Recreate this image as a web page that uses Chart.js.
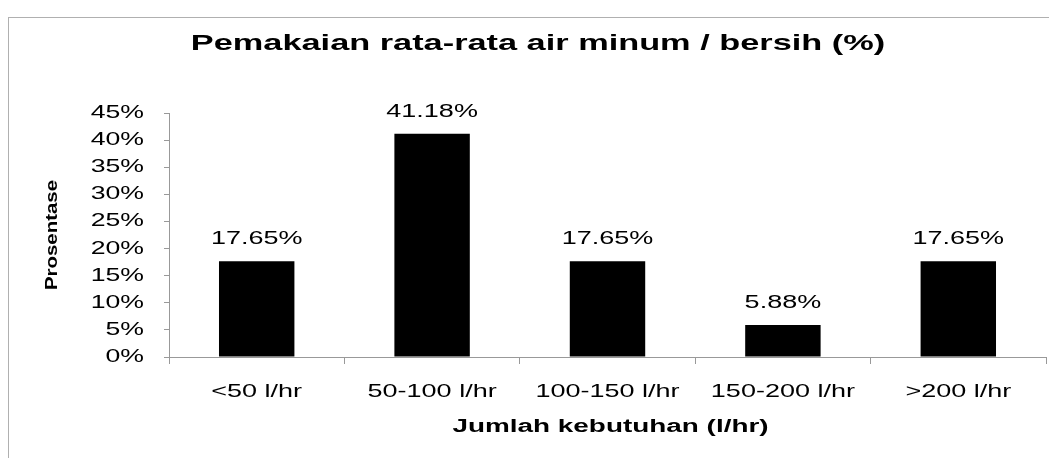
<!DOCTYPE html>
<html>
<head>
<meta charset="utf-8">
<script src="https://cdn.jsdelivr.net/npm/chart.js@4/dist/chart.umd.min.js"></script>
<style>
  body { margin: 0; background: #fff; }
  #wrap { position: relative; width: 1049px; height: 458px; }
  #frame { position: absolute; left: 8px; top: 17px; width: 1041px; height: 441px;
           border-left: 1px solid #b0b0b0; border-top: 1px solid #b0b0b0; pointer-events: none; }
</style>
</head>
<body>
<div id="wrap">
  <canvas id="chart" width="1049" height="458"></canvas>
  <div id="frame"></div>
</div>
<script>
// data
const categories = ['<50 l/hr', '50-100 l/hr', '100-150 l/hr', '150-200 l/hr', '>200 l/hr'];
const percentages = [17.65, 41.18, 17.65, 5.88, 17.65];
const yTicks = [0, 5, 10, 15, 20, 25, 30, 35, 40, 45];

const titleText = 'Pemakaian rata-rata air minum / bersih (%)';
const xTitleText = 'Jumlah kebutuhan (l/hr)';
const yTitleText = 'Prosentase';

const FONT = "'Liberation Sans', Arial, sans-serif";

// the scanned original is stretched sideways, so text is drawn with a horizontal scale
function wideText(ctx, text, x, y, font, sx, align, baseline) {
  ctx.save();
  ctx.translate(x, y);
  ctx.scale(sx, 1);
  ctx.font = font;
  ctx.fillStyle = '#000';
  ctx.textAlign = align || 'center';
  ctx.textBaseline = baseline || 'alphabetic';
  ctx.fillText(text, 0, 0);
  ctx.restore();
}

const scanText = {
  id: 'scanText',
  afterDraw(chart) {
    const ctx = chart.ctx;
    const area = chart.chartArea;
    const xs = chart.scales.x;
    const ys = chart.scales.y;

    // y tick labels
    yTicks.forEach(v => {
      wideText(ctx, v + '%', ys.right - 25, ys.getPixelForValue(v), '18px ' + FONT, 1.48, 'right', 'middle');
    });

    // x tick labels
    categories.forEach((c, i) => {
      wideText(ctx, c, xs.getPixelForValue(i), 397, '18px ' + FONT, 1.5, 'center');
    });

    // value labels above the bars
    const meta = chart.getDatasetMeta(0);
    meta.data.forEach((bar, i) => {
      wideText(ctx, percentages[i].toFixed(2) + '%', bar.x, bar.y - 17, '18px ' + FONT, 1.5, 'center');
    });

    // chart title
    wideText(ctx, titleText, 538, 50, 'bold 22px ' + FONT, 1.56, 'center');

    // x axis title
    wideText(ctx, xTitleText, (area.left + area.right) / 2 + 3, 432, 'bold 18px ' + FONT, 1.55, 'center');

    // y axis title
    ctx.save();
    ctx.translate(57, (area.top + area.bottom) / 2);
    ctx.rotate(-Math.PI / 2);
    wideText(ctx, yTitleText, 0, 0, 'bold 17px ' + FONT, 1.2, 'center');
    ctx.restore();
  }
};

const ctx = document.getElementById('chart').getContext('2d');
new Chart(ctx, {
  type: 'bar',
  data: {
    labels: categories,
    datasets: [{
      data: percentages,
      backgroundColor: '#000',
      borderWidth: 0,
      categoryPercentage: 1,
      barPercentage: 0.43
    }]
  },
  options: {
    responsive: false,
    animation: false,
    layout: { padding: { left: 0, right: 3, top: 113, bottom: 0 } },
    plugins: {
      legend: { display: false },
      tooltip: { enabled: false },
      title: { display: false }
    },
    scales: {
      x: {
        afterFit(scale) { scale.height = 101; },
        grid: { display: true, drawOnChartArea: false, offset: true, tickLength: 7, color: '#999' },
        border: { color: '#999' },
        ticks: { display: false }
      },
      y: {
        min: 0,
        max: 45,
        afterFit(scale) { scale.width = 169; },
        afterBuildTicks(scale) { scale.ticks = yTicks.map(v => ({ value: v })); },
        grid: { display: true, drawOnChartArea: false, tickLength: 5, color: '#999' },
        border: { color: '#999' },
        ticks: { display: false }
      }
    }
  },
  plugins: [scanText]
});
</script>
</body>
</html>
